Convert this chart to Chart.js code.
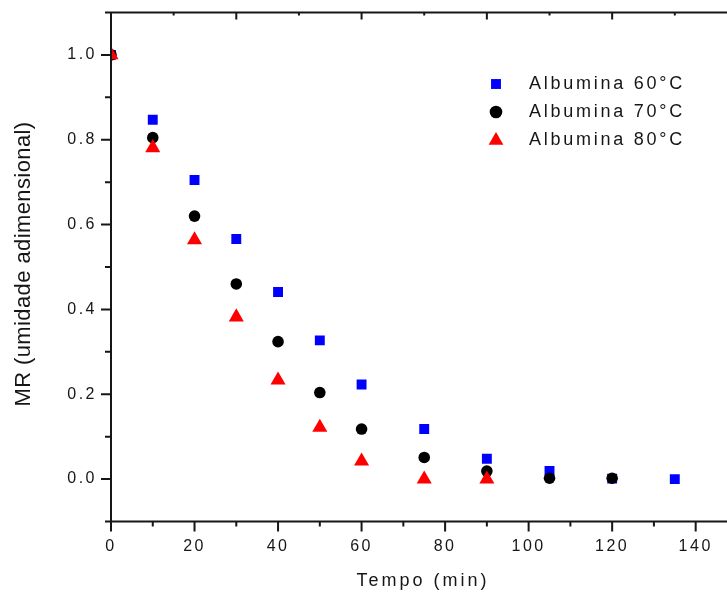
<!DOCTYPE html>
<html><head><meta charset="utf-8">
<style>html,body{margin:0;padding:0;background:#fff;overflow:hidden}canvas{display:block}</style>
<script src="https://cdn.jsdelivr.net/npm/chart.js@4/dist/chart.umd.min.js"></script>
</head><body>
<canvas id="c" width="727" height="597"></canvas>
<script>
// ---- data ----
const tempo60 = [0, 10, 20, 30, 40, 50, 60, 75, 90, 105, 120, 135];
const mr60    = [1.0, 0.847, 0.705, 0.566, 0.441, 0.327, 0.223, 0.118, 0.048, 0.019, 0.001, 0.0];
const tempo70 = [0, 10, 20, 30, 40, 50, 60, 75, 90, 105, 120];
const mr70    = [1.0, 0.805, 0.620, 0.460, 0.324, 0.204, 0.118, 0.051, 0.019, 0.002, 0.002];
const tempo80 = [0, 10, 20, 30, 40, 50, 60, 75, 90];
const mr80    = [1.0, 0.781, 0.564, 0.382, 0.233, 0.122, 0.042, 0.0, 0.0];
const seriesNames = ['Albumina 60°C', 'Albumina 70°C', 'Albumina 80°C'];
const xTickLabels = [0, 20, 40, 60, 80, 100, 120, 140];
const yTickLabels = [0.0, 0.2, 0.4, 0.6, 0.8, 1.0];
const xTitle = 'Tempo (min)';
const yTitle = 'MR (umidade adimensional)';

const FONT = "'Liberation Sans', Arial, sans-serif";
const INK = '#161616';

const pts = (xs, ys) => xs.map((x, i) => ({x: x, y: ys[i]}));
const isLabelX = v => xTickLabels.some(t => Math.abs(t - v) < 1e-6);
const isLabelY = v => yTickLabels.some(t => Math.abs(t - v) < 1e-6);
const noPad = s => { s.paddingTop = 0; s.paddingBottom = 0; s.paddingLeft = 0; s.paddingRight = 0; };

const framePlugin = {
  id: 'frame',
  beforeDraw(chart) { chart.ctx.letterSpacing = '2.5px'; },
  beforeDatasetsDraw(chart) { chart.ctx.letterSpacing = '0px'; },
  afterDatasetsDraw(chart) {
    const ctx = chart.ctx;
    const {left, right, top, bottom} = chart.chartArea;
    const xs = chart.scales.x, ys = chart.scales.y;
    ctx.save();
    ctx.strokeStyle = INK; ctx.lineWidth = 2; ctx.lineCap = 'butt';
    ctx.beginPath();
    ctx.moveTo(left, top); ctx.lineTo(left, bottom);
    ctx.moveTo(left - 6, bottom); ctx.lineTo(right, bottom);
    ctx.moveTo(left - 6, top); ctx.lineTo(right, top);
    xs.ticks.forEach(t => {
      const px = xs.getPixelForValue(t.value);
      const len = isLabelX(t.value) ? 10 : 5;
      ctx.moveTo(px, bottom); ctx.lineTo(px, bottom + len);
    });
    for (let v = 15; v <= xs.max; v += 15) {
      const px = xs.getPixelForValue(v);
      const len = (v % 30 === 0) ? 7 : 3;
      ctx.moveTo(px, top); ctx.lineTo(px, top + len);
    }
    ys.ticks.forEach(t => {
      const py = ys.getPixelForValue(t.value);
      const len = isLabelY(t.value) ? 10 : 6;
      ctx.moveTo(left, py); ctx.lineTo(left - len, py);
    });
    ctx.stroke();

    ctx.fillStyle = INK;
    ctx.textAlign = 'center'; ctx.textBaseline = 'middle';
    ctx.font = '18px ' + FONT;
    ctx.letterSpacing = '3px';
    ctx.fillText(xTitle, (left + right) / 2 + 4, 581);
    ctx.save();
    ctx.translate(24, 264);
    ctx.rotate(-Math.PI / 2);
    ctx.font = '22px ' + FONT;
    ctx.letterSpacing = '0.4px';
    ctx.fillText(yTitle, 0, 0);
    ctx.restore();

    const rows = [84, 112, 140.5];
    chart.data.datasets.forEach((ds, i) => {
      const mx = 496, my = rows[i];
      ctx.fillStyle = ds.backgroundColor;
      ctx.beginPath();
      Chart.helpers.drawPoint(ctx, {pointStyle: ds.pointStyle, radius: ds.legendRadius, rotation: 0, borderWidth: 0}, mx, my);
      ctx.fillStyle = INK;
      ctx.textAlign = 'left';
      ctx.font = '18px ' + FONT;
      ctx.letterSpacing = '2.75px';
      ctx.fillText(ds.label, 529, my);
    });
    ctx.letterSpacing = '0px';
    ctx.restore();
  }
};

new Chart(document.getElementById('c'), {
  type: 'scatter',
  data: {
    datasets: [
      {label: seriesNames[0], data: pts(tempo60, mr60), pointStyle: 'rect', pointRadius: 7,
       legendRadius: 7, backgroundColor: '#0000ff', borderColor: '#0000ff', borderWidth: 0, order: 3, clip: 0},
      {label: seriesNames[1], data: pts(tempo70, mr70), pointStyle: 'circle', pointRadius: 5.8,
       legendRadius: 6.3, backgroundColor: '#000000', borderColor: '#000000', borderWidth: 0, order: 2, clip: 0},
      {label: seriesNames[2], data: pts(tempo80, mr80), pointStyle: 'triangle', pointRadius: 8.7,
       legendRadius: 8.5, backgroundColor: '#ff0000', borderColor: '#ff0000', borderWidth: 0, order: 1, clip: 0}
    ]
  },
  options: {
    responsive: false, animation: false, devicePixelRatio: 1,
    layout: {autoPadding: false, padding: {left: 0, right: 0, top: 12.5, bottom: 0}},
    plugins: {legend: {display: false}, tooltip: {enabled: false}},
    scales: {
      x: {
        type: 'linear', min: 0, max: 147.5,
        grid: {display: false, drawTicks: false}, border: {display: false},
        ticks: {stepSize: 10, includeBounds: false, autoSkip: false, maxRotation: 0,
          padding: 15, color: INK, font: {family: FONT, size: 16},
          callback: v => isLabelX(v) ? String(Math.round(v)) : ''},
        afterFit: s => { s.height = 75.5; noPad(s); }
      },
      y: {
        type: 'linear', min: -0.1, max: 1.1,
        grid: {display: false, drawTicks: false}, border: {display: false},
        ticks: {stepSize: 0.1, includeBounds: true, autoSkip: false,
          padding: 14, color: INK, font: {family: FONT, size: 16},
          callback: v => isLabelY(v) ? v.toFixed(1) : ''},
        afterFit: s => { s.width = 111; noPad(s); }
      }
    }
  },
  plugins: [framePlugin]
});
</script>
</body></html>
